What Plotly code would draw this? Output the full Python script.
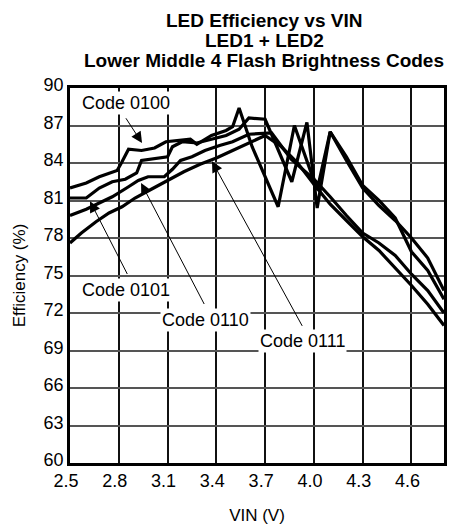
import plotly.graph_objects as go

# ---- data ----
vin_0100 = [2.5, 2.6, 2.68, 2.74, 2.79, 2.82, 2.86, 2.94, 3.02, 3.09, 3.18, 3.24, 3.28, 3.37, 3.46, 3.5,
            3.54, 3.62, 3.78, 3.88, 4.02, 4.1, 4.2, 4.3, 4.4, 4.5, 4.6, 4.7, 4.8]
eff_0100 = [82.0, 82.4, 82.9, 83.2, 83.4, 84.1, 85.1, 85.0, 85.2, 85.7, 85.8, 85.9, 85.5, 86.2, 86.6, 86.9,
            88.4, 85.3, 80.5, 87.0, 81.85, 86.5, 84.2, 82.0, 80.6, 79.4, 78.0, 76.4, 73.8]

vin_0101 = [2.5, 2.6, 2.68, 2.76, 2.84, 2.91, 2.94, 3.03, 3.1, 3.13, 3.19, 3.28, 3.37, 3.46, 3.54, 3.6,
            3.7, 3.864, 3.957, 4.02, 4.1, 4.2, 4.3, 4.4, 4.5, 4.6, 4.7, 4.8]
eff_0101 = [81.2, 81.2, 82.0, 82.5, 82.7, 83.2, 84.2, 84.4, 84.5, 85.3, 85.7, 85.6, 85.9, 86.2, 86.7, 87.6,
            87.5, 82.5, 87.25, 80.4, 86.5, 84.5, 82.2, 81.0, 79.6, 76.9, 75.4, 73.1]

vin_0110 = [2.5, 2.6, 2.68, 2.76, 2.86, 2.92, 2.98, 3.08, 3.13, 3.18, 3.25, 3.33, 3.42, 3.5, 3.6, 3.74,
            3.86, 4.0, 4.1, 4.2, 4.3, 4.4, 4.5, 4.6, 4.7, 4.8]
eff_0110 = [79.8, 80.3, 80.8, 81.3, 82.1, 82.6, 82.9, 82.9, 83.5, 84.2, 84.5, 85.0, 85.4, 85.7, 86.3, 86.4,
            84.3, 82.7, 81.3, 79.8, 78.4, 77.6, 76.6, 75.1, 73.8, 72.0]

vin_0111 = [2.5, 2.57, 2.66, 2.74, 2.82, 2.9, 3.0, 3.1, 3.2, 3.3, 3.4, 3.5, 3.6, 3.7, 3.8, 3.9, 4.0, 4.1,
            4.2, 4.3, 4.4, 4.5, 4.6, 4.7, 4.8]
eff_0111 = [77.6, 78.4, 79.3, 80.0, 80.5, 81.2, 81.9, 82.6, 83.3, 83.9, 84.4, 85.0, 85.6, 86.2, 85.3, 84.0,
            82.3, 80.7, 79.4, 78.1, 77.0, 75.6, 74.2, 72.7, 71.0]

series_names = ["Code 0100", "Code 0101", "Code 0110", "Code 0111"]
x_ticks = [2.5, 2.8, 3.1, 3.4, 3.7, 4.0, 4.3, 4.6]
x_tick_text = ["2.5", "2.8", "3.1", "3.4", "3.7", "4.0", "4.3", "4.6"]
y_ticks = [60, 63, 66, 69, 72, 75, 78, 81, 84, 87, 90]
title_lines = ["LED Efficiency vs VIN", "LED1 + LED2", "Lower Middle 4 Flash Brightness Codes"]

FONT = "Arial, Liberation Sans, Helvetica, sans-serif"

fig = go.Figure()
for xs, ys, nm in zip([vin_0100, vin_0101, vin_0110, vin_0111],
                      [eff_0100, eff_0101, eff_0110, eff_0111], series_names):
    fig.add_trace(go.Scatter(x=xs, y=ys, mode="lines", name=nm,
                             line=dict(color="black", width=3.2), showlegend=False))

# label placements (layout only)
labels = [
    dict(text="Code 0100", x=2.844, y=88.8, tip=(2.943, 85.6), tail=(2.838, 87.7)),
    dict(text="Code 0101", x=2.844, y=73.85, tip=(2.623, 80.95), tail=(2.857, 75.0)),
    dict(text="Code 0110", x=3.336, y=71.45, tip=(2.937, 82.4), tail=(3.33, 72.6)),
    dict(text="Code 0111", x=3.927, y=69.75, tip=(3.373, 84.15), tail=(3.933, 70.85)),
]
annotations = []
for lb in labels:
    annotations.append(dict(x=lb["tip"][0], y=lb["tip"][1], ax=lb["tail"][0], ay=lb["tail"][1],
                            xref="x", yref="y", axref="x", ayref="y", text="",
                            showarrow=True, arrowhead=2, arrowsize=2.2, arrowwidth=1,
                            arrowcolor="black", standoff=0, startstandoff=0))
for lb in labels:
    annotations.append(dict(x=lb["x"], y=lb["y"], xref="x", yref="y", text=lb["text"],
                            showarrow=False, bgcolor="white", borderpad=1,
                            font=dict(family=FONT, size=18, color="black")))

# title as three stacked lines
for i, t in enumerate(title_lines):
    annotations.append(dict(x=0.52, y=1.0, xref="paper", yref="paper", xanchor="center", yanchor="bottom",
                            yshift=15 + (2 - i) * 20, text="<b>%s</b>" % t, showarrow=False,
                            font=dict(family=FONT, size=19, color="black")))

# the page body offsets the figure horizontally, so the figure is narrowed to fit the window
fig.update_layout(
    width=464, height=529,
    margin=dict(l=62, r=28, t=80, b=74),
    paper_bgcolor="white", plot_bgcolor="white",
    xaxis=dict(range=[2.5, 4.8], tickvals=x_ticks, ticktext=x_tick_text, automargin=False,
               showgrid=True, gridcolor="#111", gridwidth=1.5,
               showline=True, mirror=True, linecolor="black", linewidth=2.5,
               ticks="", zeroline=False, ticklabelshift=-4,
               tickfont=dict(family=FONT, size=18, color="black"),
               title=dict(text="VIN (V)", font=dict(family=FONT, size=17, color="black"), standoff=19)),
    yaxis=dict(range=[60, 90], tickvals=y_ticks, automargin=False,
               showgrid=True, gridcolor="#555", gridwidth=1.5,
               showline=True, mirror=True, linecolor="black", linewidth=2.5,
               ticks="", zeroline=False, ticklabelshift=-3,
               tickfont=dict(family=FONT, size=18, color="black"),
               title=dict(text="Efficiency (%)", font=dict(family=FONT, size=17, color="black"), standoff=14)),
    annotations=annotations,
)

fig.write_html("out.html")
